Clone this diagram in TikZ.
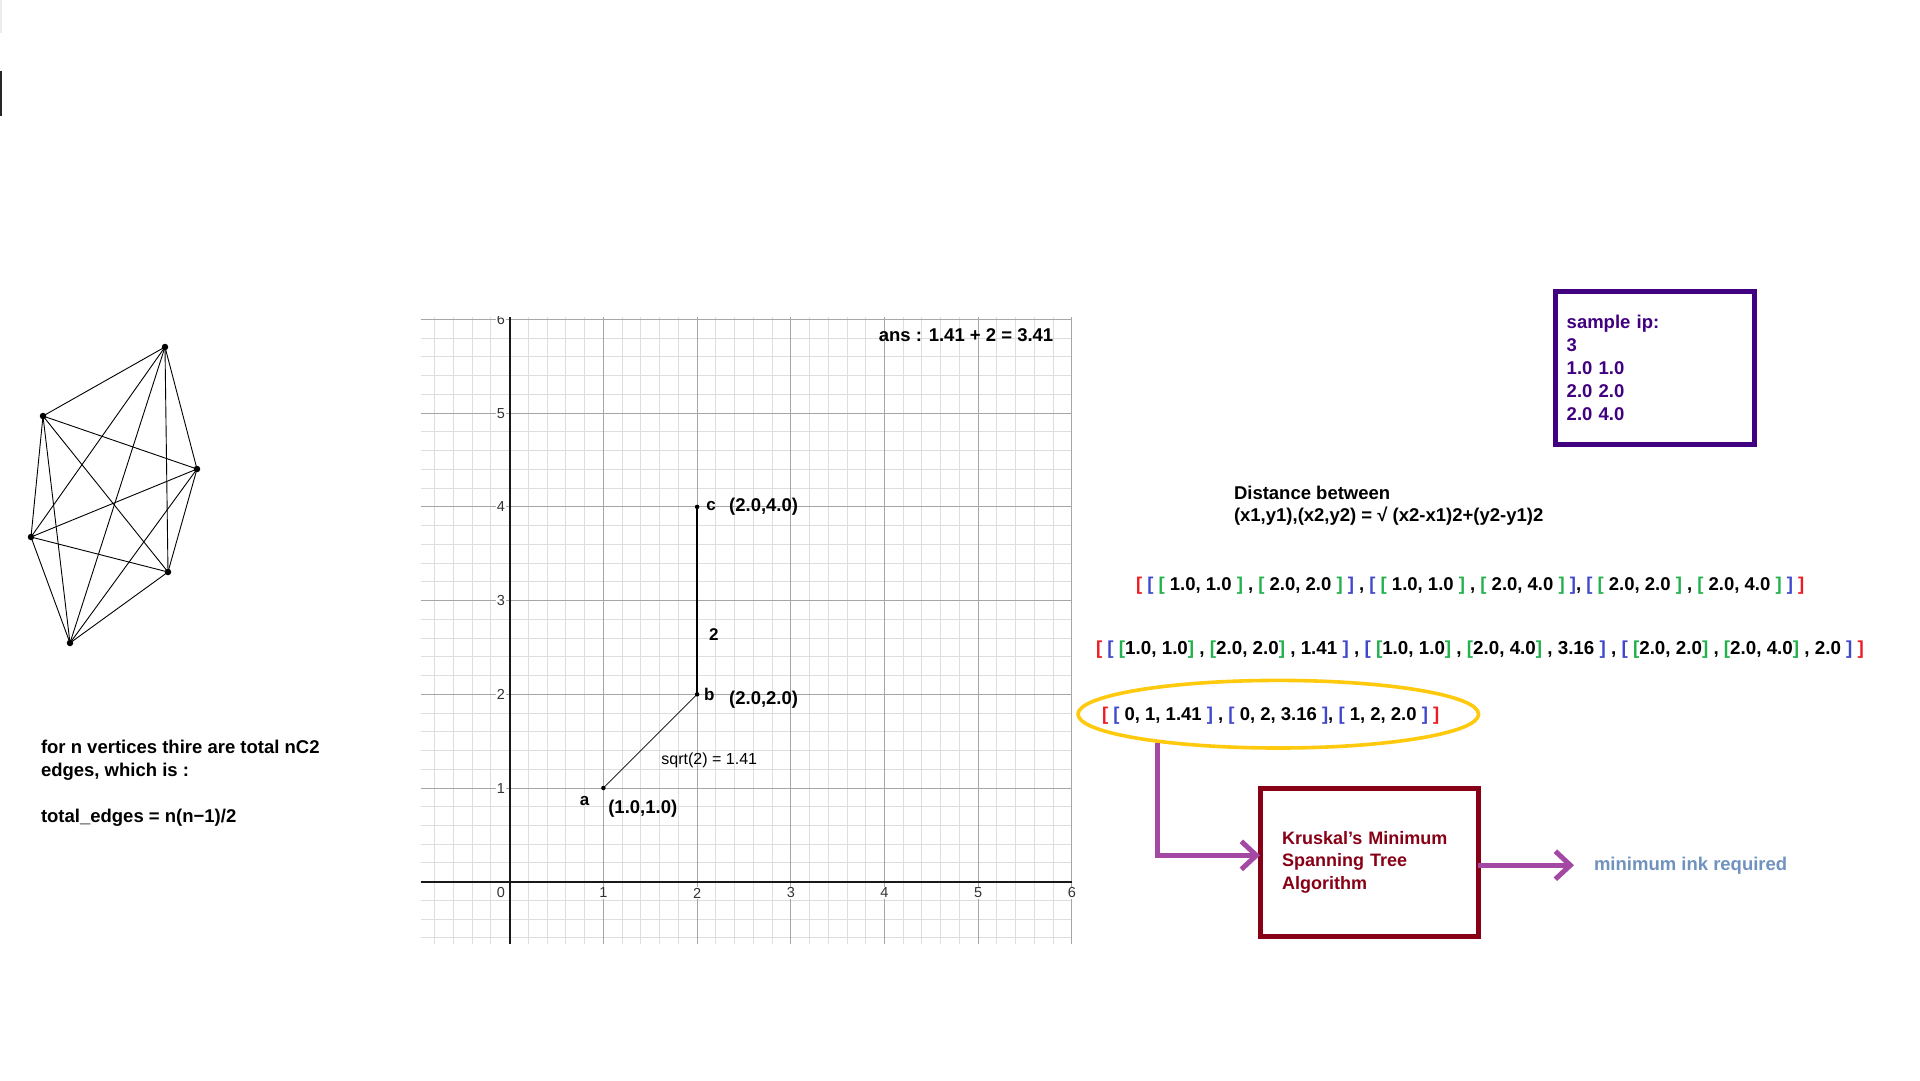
\documentclass[tikz,border=0pt]{standalone}
\usepackage{fontspec}
\setmainfont{Liberation Sans}
\usetikzlibrary{positioning,arrows.meta,shapes.geometric,calc}
\definecolor{sampleink}{HTML}{400080}
\definecolor{kruskalred}{HTML}{880015}
\definecolor{flowpurple}{HTML}{A349A4}
\definecolor{ovalgold}{HTML}{FFC90E}
\definecolor{resultblue}{HTML}{7092BE}
\definecolor{brred}{HTML}{ED1C24}
\definecolor{brblue}{HTML}{3F48CC}
\definecolor{brgreen}{HTML}{22B14C}
\definecolor{gridmajor}{HTML}{A6A6A6}
\definecolor{gridminor}{HTML}{DEDEDE}
\newcommand{\rbl}{\textcolor{brred}{[}}
\newcommand{\rbr}{\textcolor{brred}{]}}
\newcommand{\bbl}{\textcolor{brblue}{[}}
\newcommand{\bbr}{\textcolor{brblue}{]}}
\newcommand{\gbl}{\textcolor{brgreen}{[}}
\newcommand{\gbr}{\textcolor{brgreen}{]}}
\tikzset{
  bold note/.style={font=\fontsize{18.5}{23}\selectfont\bfseries, inner sep=0pt, outer sep=0pt},
  samplebox/.style={bold note, draw=sampleink, text=sampleink, line width=4.7pt, align=left,
    text width=176.6pt, inner xsep=11.4pt, minimum height=153.4pt},
  algobox/.style={bold note, draw=kruskalred, text=kruskalred, line width=5pt, align=left,
    text width=174pt, inner xsep=22pt, minimum height=148.3pt, font=\fontsize{18}{22.5}\selectfont\bfseries},
  oval/.style={ellipse, draw=ovalgold, line width=3.6pt, inner sep=0pt,
    minimum width=400.6pt, minimum height=67.6pt},
  flow/.style={draw=flowpurple, line width=5pt, -{Straight Barb[length=15pt,width=28pt]}},
}
\begin{document}
\begin{tikzpicture}[x=1pt, y=-1pt,
  vertex/.style={circle, fill=black, inner sep=0pt, minimum size=6.5pt},
  gpoint/.style={circle, fill=black, inner sep=0pt, minimum size=4.5pt},
  ticklabel/.style={font=\fontsize{14.5}{16}\selectfont, text=black!80, fill=white, inner sep=1pt},
  glabel/.style={bold note, font=\fontsize{17}{20}\selectfont\bfseries},
  ]
  \useasboundingbox (0,0) rectangle (1920,1080);
  \fill[gray!15] (0,0) rectangle (2,33);
  \fill[black!85] (0,71) rectangle (2,116);

  \node[vertex] (v1) at (165,347) {};
  \node[vertex] (v2) at (43,416) {};
  \node[vertex] (v3) at (197,469) {};
  \node[vertex] (v4) at (31,537) {};
  \node[vertex] (v5) at (168,572) {};
  \node[vertex] (v6) at (70,643) {};
  \foreach \a/\b in {1/2,1/3,1/4,1/5,1/6,2/3,2/4,2/5,2/6,3/4,3/5,3/6,4/5,4/6,5/6}
    \draw[line width=0.9pt] (v\a.center) -- (v\b.center);
  \node[bold note, anchor=base west, align=left] (edgecount) at (41,822)
    {for n vertices thire are total nC2\\edges, which is :\\[23pt]total\_edges = n(n−1)/2};

  \begin{scope}[shift={(509.7,881.7)}, x=93.7pt, y=93.7pt]
    \clip (-0.95,-0.67) rectangle (6.1,6.03);
    \foreach \i in {-4,...,30}
      \draw[gridminor, line width=1pt] (\i/5,-0.67) -- (\i/5,6.03);
    \foreach \j in {-3,...,30}
      \draw[gridminor, line width=1pt] (-0.95,\j/5) -- (6,\j/5);
    \foreach \i in {1,...,6}{
      \draw[gridmajor, line width=1pt] (\i,-0.67) -- (\i,6.03);
      \draw[gridmajor, line width=1pt] (-0.95,\i) -- (6,\i);
    }
    \draw[line width=1.8pt, black!90] (-0.95,0) -- (6,0);
    \draw[line width=1.8pt, black!90] (0,-0.67) -- (0,6.03);
    \foreach \i in {1,...,6}{
      \node[ticklabel] (xt\i) at (\i,-0.12) {\i};
      \node[ticklabel] (yt\i) at (-0.093,\i) {\i};
    }
    \node[ticklabel] (xt0) at (-0.093,-0.12) {0};

    \node[gpoint] (pa) at (1,1) {};
    \node[gpoint] (pb) at (2,2) {};
    \node[gpoint] (pc) at (2,4) {};
    \draw[line width=0.8pt] (pa.center) -- (pb.center);
    \draw[line width=1.6pt] (pb.center) -- (pc.center);
    \node[glabel] (la) at (0.80,0.86) {a};
    \node[glabel] (lb) at (2.13,2.0) {b};
    \node[glabel] (lc) at (2.15,4.01) {c};
    \node[bold note] (ca) at (1.42,0.78) {(1.0,1.0)};
    \node[bold note] (cb) at (2.71,1.94) {(2.0,2.0)};
    \node[bold note] (cc) at (2.71,4.0) {(2.0,4.0)};
    \node[glabel] (lbc) at (2.18,2.64) {2};
    \node[font=\fontsize{16}{19}\selectfont, inner sep=0pt] (lab) at (2.13,1.30) {sqrt(2) = 1.41};
    \node[bold note] (answer) at (4.87,5.83) {ans : 1.41 + 2 = 3.41};
  \end{scope}

  \node[samplebox] (sample) at (1655,368) {sample ip:\\3\\1.0 1.0\\2.0 2.0\\2.0 4.0};
  \node[bold note, anchor=base west, align=left, font=\fontsize{18.5}{22.4}\selectfont\bfseries] (distance) at (1234,521.7)
    {Distance between\\(x1,y1),(x2,y2) = √ (x2-x1)2+(y2-y1)2};
  \node[bold note, anchor=base west] (pairs) at (1136,590.5)
    {\rbl{} \bbl{} \gbl{} 1.0, 1.0 \gbr{} , \gbl{} 2.0, 2.0 \gbr{} \bbr{} , \bbl{} \gbl{} 1.0, 1.0 \gbr{} , \gbl{} 2.0, 4.0 \gbr{} \bbr{}, \bbl{} \gbl{} 2.0, 2.0 \gbr{} , \gbl{} 2.0, 4.0 \gbr{} \bbr{} \rbr{}};
  \node[bold note, anchor=base west, font=\fontsize{18.8}{23}\selectfont\bfseries] (pairsdist) at (1096,654.5)
    {\rbl{} \bbl{} \gbl{}1.0, 1.0\gbr{} , \gbl{}2.0, 2.0\gbr{} , 1.41 \bbr{} , \bbl{} \gbl{}1.0, 1.0\gbr{} , \gbl{}2.0, 4.0\gbr{} , 3.16 \bbr{} , \bbl{} \gbl{}2.0, 2.0\gbr{} , \gbl{}2.0, 4.0\gbr{} , 2.0 \bbr{} \rbr{}};
  \node[oval] (edgeoval) at (1278.3,714.2) {};
  \coordinate (ovalfoot) at ($(edgeoval.center)+(-121,28.5)$);
  \node[bold note, anchor=base west] (weights) at (1102,720.5)
    {\rbl{} \bbl{} 0, 1, 1.41 \bbr{} , \bbl{} 0, 2, 3.16 \bbr{}, \bbl{} 1, 2, 2.0 \bbr{} \rbr{}};
  \node[algobox] (kruskal) at (1369,862.35) {Kruskal’s Minimum\\Spanning Tree\\Algorithm};
  \node[bold note, text=resultblue, anchor=base west] (ink) at (1594,870) {minimum ink required};
  \draw[flow] (ovalfoot) |- ([yshift=7pt]kruskal.west);
  \draw[flow] (kruskal.east |- ink.west) -- ([xshift=-20pt]ink.west);
\end{tikzpicture}
\end{document}
